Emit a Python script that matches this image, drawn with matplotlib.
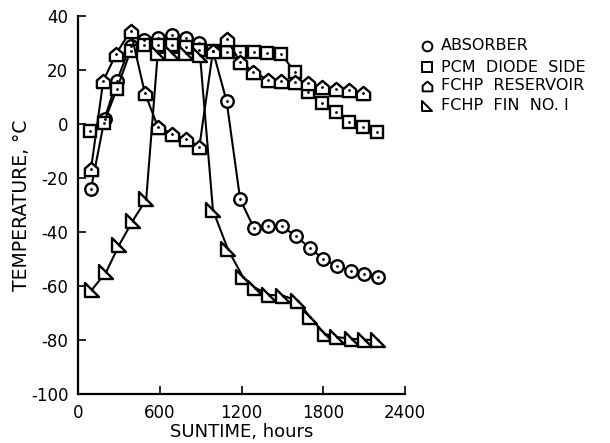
import matplotlib

matplotlib.use("Agg")
import matplotlib.pyplot as plt
from matplotlib.path import Path
from matplotlib.lines import Line2D

# suntime (hours) and temperature (deg C)
absorber_x = [95, 195, 285, 385, 485, 585, 690, 790, 890, 990, 1090, 1190, 1290, 1395, 1495, 1600, 1700, 1800, 1900, 2000, 2100, 2200]
absorber_y = [-24, 2, 16, 29, 31, 32, 33, 32, 30, 27, 8.5, -28, -38.5, -38, -38, -41.5, -46, -50, -52.6, -54.4, -55.6, -56.7]

pcm_x = [90, 190, 285, 385, 485, 585, 690, 790, 890, 990, 1090, 1190, 1290, 1390, 1490, 1590, 1690, 1790, 1895, 1990, 2095, 2195]
pcm_y = [-2.6, 0.5, 13, 27, 29.3, 29.3, 29.3, 28.5, 27.4, 27, 26.7, 26.7, 26.7, 26.3, 26, 19.3, 11.8, 7.8, 4.4, 0.7, -1.1, -3]

res_x = [95, 185, 280, 385, 490, 585, 690, 790, 890, 990, 1090, 1190, 1285, 1395, 1490, 1595, 1690, 1790, 1890, 1990, 2095]
res_y = [-16.7, 16, 26, 34.5, 11.5, -1, -3.7, -5.6, -8.5, 27, 31.5, 23, 19.3, 16.3, 16, 15.6, 15, 13.7, 13, 12.6, 11.5]

fin_x = [100, 205, 300, 400, 500, 585, 690, 790, 895, 990, 1100, 1210, 1300, 1400, 1505, 1615, 1700, 1810, 1900, 2010, 2105, 2200]
fin_y = [-61.5, -55, -45, -36, -28, 26.3, 26.3, 26.3, 25.5, -32, -46.5, -56.7, -60.7, -63.3, -63.7, -65.5, -71.5, -77.8, -79, -79.6, -80, -80]

labels = ["ABSORBER", "PCM  DIODE  SIDE", "FCHP  RESERVOIR", "FCHP  FIN  NO. I"]

house = Path([(-1, -1), (1, -1), (1, 0.15), (0, 1), (-1, 0.15), (-1, -1)],
             [Path.MOVETO, Path.LINETO, Path.LINETO, Path.LINETO, Path.LINETO, Path.CLOSEPOLY])
wedge = Path([(-1, 1), (-1, -1), (1, -1), (-1, 1)],
             [Path.MOVETO, Path.LINETO, Path.LINETO, Path.CLOSEPOLY])

series = [
    (absorber_x, absorber_y, "o", 9),
    (pcm_x, pcm_y, "s", 8.5),
    (res_x, res_y, house, 9.5),
    (fin_x, fin_y, wedge, 9.5),
]

plt.rcParams["font.family"] = ["DejaVu Sans"]

fig = plt.figure(figsize=(6.1, 4.43), dpi=100)
ax = fig.add_axes([0.128, 0.111, 0.536, 0.853])

for xs, ys, mk, ms in series:
    ax.plot(xs, ys, color="black", lw=1.5, marker=mk, ms=ms, mfc="white", mec="black", mew=1.7, zorder=2)
    ax.plot(xs, ys, ls="none", marker=".", ms=2, color="black", zorder=3)

ax.set_xlim(0, 2400)
ax.set_ylim(-100, 40)
ax.set_xticks([0, 600, 1200, 1800, 2400])
ax.set_yticks(range(-100, 41, 20))
ax.set_yticklabels(["-100", "-80", "-60", "-40", "-20", "0", "20", "40"])
ax.tick_params(direction="in", length=6, width=1.2, labelsize=12, pad=7)
for side in ["top", "right"]:
    ax.spines[side].set_visible(False)
for side in ["left", "bottom"]:
    ax.spines[side].set_linewidth(1.6)

ax.set_xlabel("SUNTIME, hours", fontsize=13, labelpad=1)
ax.set_ylabel("TEMPERATURE, \u00b0C", fontsize=13.5, labelpad=0)

# legend drawn by hand at the right side
legend_marks = ["o", "s", house, wedge]
rows = [46, 67, 86, 106]
for mk, lab, row in zip(legend_marks, labels, rows):
    yf = 1 - row / 443
    fig.add_artist(Line2D([427 / 610], [yf], transform=fig.transFigure, marker=mk, ms=7,
                          mfc="white", mec="black", mew=1.4, ls="none"))
    fig.text(441 / 610, yf, lab, fontsize=11.5, va="center", ha="left")

fig.savefig("out.png", dpi=100)
